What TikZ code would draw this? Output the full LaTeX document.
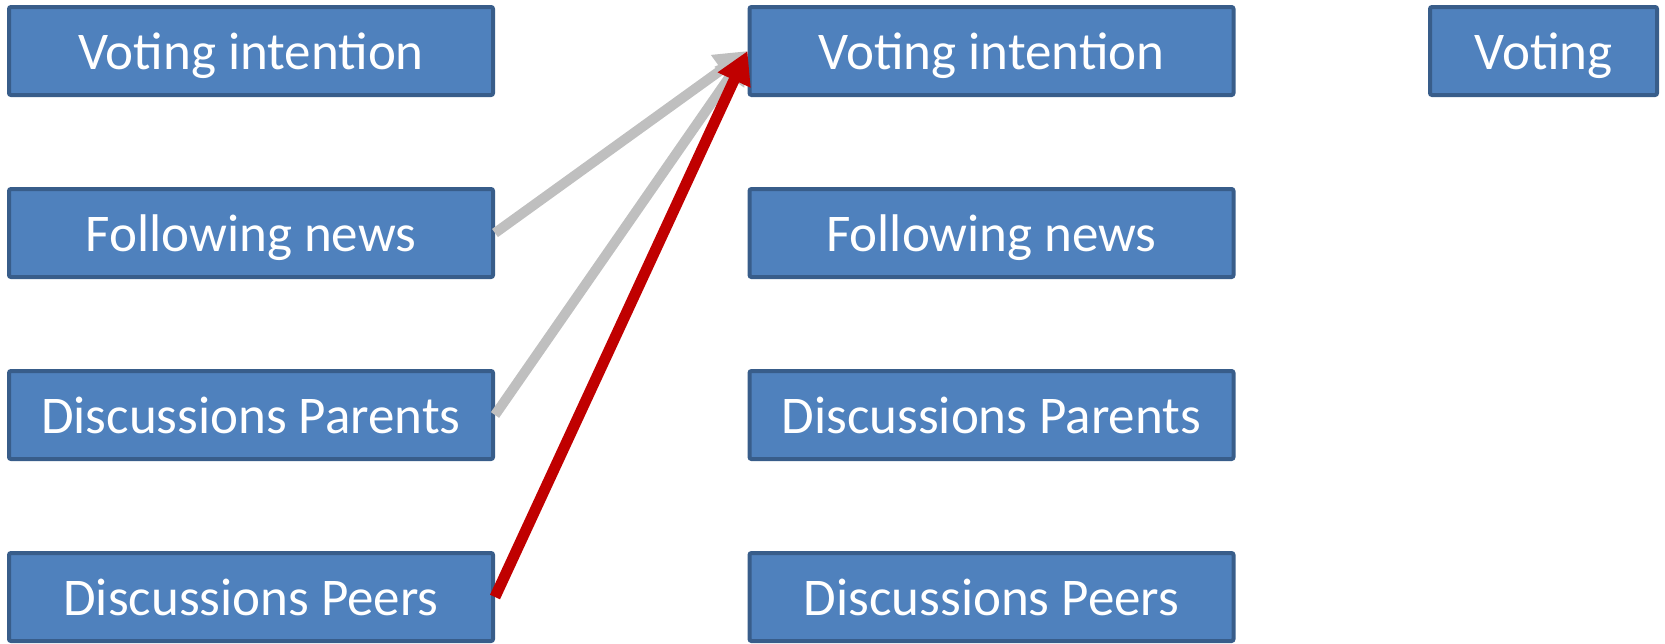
\documentclass[tikz,border=0pt]{standalone}
\usepackage{fontspec}
\setmainfont{Carlito}
\usetikzlibrary{arrows.meta}
\definecolor{boxfill}{HTML}{4F81BD}
\definecolor{boxline}{HTML}{385D8A}
\definecolor{arrgray}{HTML}{BFBFBF}
\definecolor{arrred}{HTML}{C00000}
\tikzset{
  varbox/.style={draw=boxline, fill=boxfill, line width=4pt, rounded corners=2pt,
    text=white, font=\fontsize{53}{60}\selectfont, inner sep=0pt,
    text height=48pt, text depth=11pt, minimum height=88pt},
  widebox/.style={varbox, minimum width=484pt},
  narrowbox/.style={varbox, minimum width=227pt},
  grayarrow/.style={draw=arrgray, line width=10pt, -{Triangle[length=32pt,width=34pt]}},
  redarrow/.style={draw=arrred, line width=11pt, -{Triangle[length=32pt,width=34pt]}},
}
\begin{document}
\begin{tikzpicture}[x=1pt,y=1pt]
\useasboundingbox (0,0) rectangle (1665,-643);
\node[widebox] (l1) at (251,-51) {Voting intention};
\node[widebox] (l2) at (251,-233) {Following news};
\node[widebox] (l3) at (251,-415) {Discussions Parents};
\node[widebox] (l4) at (251,-597) {Discussions Peers};
\node[widebox] (m1) at (991.5,-51) {Voting intention};
\node[widebox] (m2) at (991.5,-233) {Following news};
\node[widebox] (m3) at (991.5,-415) {Discussions Parents};
\node[widebox] (m4) at (991.5,-597) {Discussions Peers};
\node[narrowbox] (r1) at (1543.5,-51) {Voting};
\draw[grayarrow] (l2.east) -- (m1.west);
\draw[grayarrow] (l3.east) -- (m1.west);
\draw[redarrow] (l4.east) -- (m1.west);
\end{tikzpicture}
\end{document}
